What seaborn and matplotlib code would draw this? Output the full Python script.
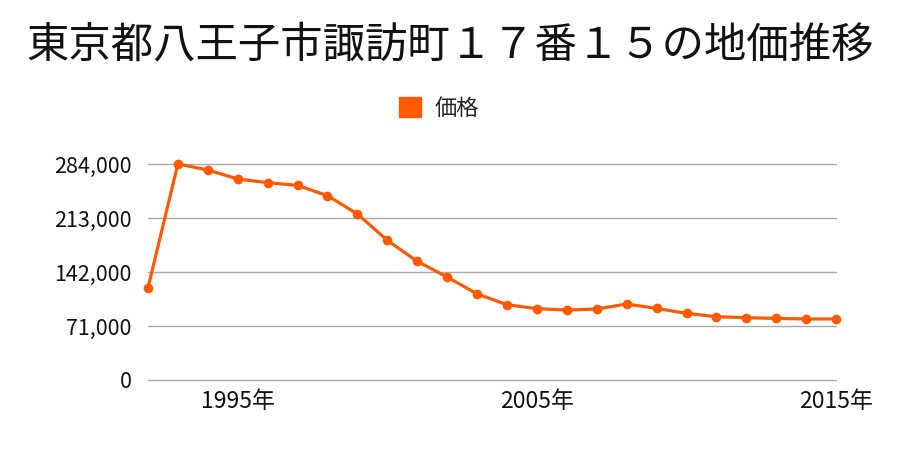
import matplotlib
matplotlib.use("Agg")
import matplotlib.pyplot as plt
import matplotlib.patches as mpatches
import seaborn as sns
import pandas as pd

years = list(range(1992, 2016))
prices = [121000, 284000, 276100, 264300, 259400, 255900, 242300, 218300,
          183600, 155900, 135400, 113100, 99000, 93700, 92000, 93300,
          99900, 94100, 87600, 83200, 81900, 81000, 80200, 80200]
yticks = [0, 71000, 142000, 213000, 284000]
xticks = [1995, 2005, 2015]
title = "東京都八王子市諏訪町１７番１５の地価推移"
series_name = "価格"

sns.set_theme(style="white")
plt.rcParams['font.family'] = ['Noto Sans CJK JP', 'DejaVu Sans']

color = "#ff5a00"
df = pd.DataFrame({"year": years, "price": prices})

fig = plt.figure(figsize=(9, 4.5), dpi=100)
ax = fig.add_axes([0.1644, 0.1556, 0.929 - 0.1644, 0.6356 - 0.1556])
sns.lineplot(data=df, x="year", y="price", ax=ax, color=color, linewidth=2.3,
             marker="o", markersize=7, markeredgewidth=0, legend=False,
             clip_on=False, zorder=3)

ax.set_xlim(1992, 2015)
ax.set_ylim(0, 284000)
ax.set_yticks(yticks)
ax.set_yticklabels([f"{v:,}" for v in yticks])
ax.set_xticks(xticks)
ax.set_xticklabels([f"{v}年" for v in xticks])
ax.tick_params(axis="y", length=0, labelsize=15.5, colors="#111111", pad=12)
ax.tick_params(axis="x", length=0, labelsize=16.5, colors="#111111", pad=7)
ax.set_xlabel("")
ax.set_ylabel("")
for v in yticks:
    ax.axhline(v, color="#aaaaaa", linewidth=1, clip_on=False, zorder=1)
for s in ax.spines.values():
    s.set_visible(False)

fig.text(0.5, 0.9, title, ha="center", va="center", fontsize=30.5, color="#111111")
handle = mpatches.Patch(color=color, label=series_name)
fig.legend(handles=[handle], loc="center", bbox_to_anchor=(0.488, 0.76),
           frameon=False, fontsize=16, handlelength=1.0, handleheight=1.0,
           handletextpad=0.6)

fig.savefig("out.png", dpi=100)
